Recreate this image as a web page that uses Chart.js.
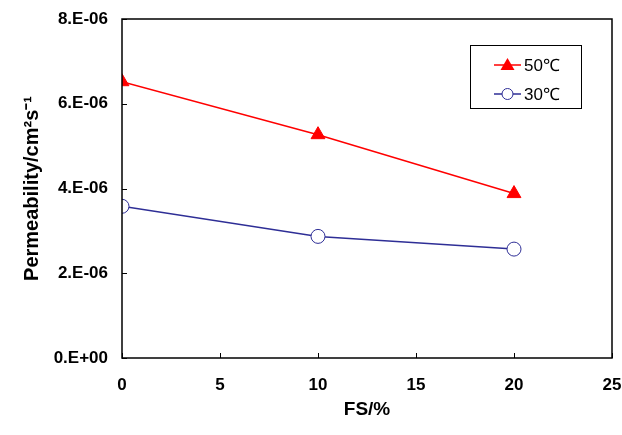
<!DOCTYPE html>
<html>
<head>
<meta charset="utf-8">
<script src="https://cdn.jsdelivr.net/npm/chart.js@4.4.0/dist/chart.umd.min.js"></script>
<style>
  html, body { margin: 0; padding: 0; background: #fff; }
  #chart { display: block; }
</style>
</head>
<body>
<canvas id="chart" width="622" height="435"></canvas>
<script>
// data
const fsPercent = [0, 10, 20];
const perm50 = [6.52e-6, 5.27e-6, 3.88e-6];
const perm30 = [3.58e-6, 2.87e-6, 2.57e-6];
const seriesLabels = ['50\u2103', '30\u2103'];
const xTitle = 'FS/%';
const yTitle = 'Permeability/cm\u00B2s\u207B\u00B9';

const RED = '#ff0000';
const NAVY = '#2e2e96';
const FONT = "'Liberation Sans', Arial, sans-serif";

// Excel style "8.E-06"
function excelExp(v) {
    if (Math.abs(v) < 1e-15) return '0.E+00';
    let exp = Math.floor(Math.log10(Math.abs(v)) + 1e-9);
    let mant = Math.round(v / Math.pow(10, exp));
    const sign = exp < 0 ? '-' : '+';
    return mant + '.E' + sign + String(Math.abs(exp)).padStart(2, '0');
}

function toPoints(xs, ys) {
    return xs.map((x, i) => ({ x: x, y: ys[i] }));
}

// frame + inward tick marks
const framePlugin = {
    id: 'frame',
    afterDraw(chart) {
        const ctx = chart.ctx;
        const a = chart.chartArea;
        const xs = chart.scales.x, ys = chart.scales.y;
        ctx.save();
        ctx.strokeStyle = '#000';
        ctx.lineWidth = 1.5;
        ctx.strokeRect(a.left, a.top, a.right - a.left, a.bottom - a.top);
        ctx.lineWidth = 1;
        ctx.beginPath();
        xs.ticks.forEach(t => {
            const px = Math.round(xs.getPixelForValue(t.value)) + 0.5;
            ctx.moveTo(px, a.bottom);
            ctx.lineTo(px, a.bottom - 5);
        });
        ys.ticks.forEach(t => {
            const py = Math.round(ys.getPixelForValue(t.value)) + 0.5;
            ctx.moveTo(a.left, py);
            ctx.lineTo(a.left + 5, py);
        });
        ctx.stroke();
        ctx.restore();
    }
};

// boxed legend inside the plot, upper right
const boxLegend = {
    id: 'boxLegend',
    afterDraw(chart) {
        const ctx = chart.ctx;
        const bx = 470, by = 45, bw = 111, bh = 63;
        ctx.save();
        ctx.fillStyle = '#fff';
        ctx.fillRect(bx, by, bw, bh);
        ctx.strokeStyle = '#000';
        ctx.lineWidth = 1;
        ctx.strokeRect(bx + 0.5, by + 0.5, bw, bh);
        const rows = [20, 49];
        chart.data.datasets.forEach((ds, i) => {
            const y = by + rows[i];
            ctx.strokeStyle = ds.borderColor;
            ctx.lineWidth = 1.5;
            ctx.beginPath();
            ctx.moveTo(494, y);
            ctx.lineTo(521, y);
            ctx.stroke();
            const cx = 507.5;
            if (ds.pointStyle === 'triangle') {
                ctx.fillStyle = ds.pointBackgroundColor;
                ctx.beginPath();
                ctx.moveTo(cx, y - 7);
                ctx.lineTo(cx + 7, y + 5);
                ctx.lineTo(cx - 7, y + 5);
                ctx.closePath();
                ctx.fill();
            } else {
                ctx.fillStyle = '#fff';
                ctx.strokeStyle = ds.pointBorderColor;
                ctx.lineWidth = 1;
                ctx.beginPath();
                ctx.arc(cx, y, 5.5, 0, Math.PI * 2);
                ctx.fill();
                ctx.stroke();
            }
            ctx.fillStyle = '#000';
            ctx.font = '17px ' + FONT;
            ctx.textBaseline = 'middle';
            ctx.textAlign = 'left';
            ctx.fillText(ds.label, 524, y + 1);
        });
        ctx.restore();
    }
};

const ctx = document.getElementById('chart').getContext('2d');
new Chart(ctx, {
    type: 'scatter',
    data: {
        datasets: [{
            label: seriesLabels[0],
            data: toPoints(fsPercent, perm50),
            showLine: true,
            borderColor: RED,
            borderWidth: 1.5,
            pointStyle: 'triangle',
            pointRadius: 8,
            pointBackgroundColor: RED,
            pointBorderColor: RED,
            pointBorderWidth: 1
        }, {
            label: seriesLabels[1],
            data: toPoints(fsPercent, perm30),
            showLine: true,
            borderColor: NAVY,
            borderWidth: 1.5,
            pointStyle: 'circle',
            pointRadius: 7,
            pointBackgroundColor: '#fff',
            pointBorderColor: NAVY,
            pointBorderWidth: 1
        }]
    },
    options: {
        responsive: false,
        animation: false,
        layout: { padding: { left: 0, right: 10, top: 19, bottom: 0 } },
        plugins: {
            legend: { display: false },
            tooltip: { enabled: false }
        },
        scales: {
            x: {
                type: 'linear',
                min: 0, max: 25,
                ticks: {
                    stepSize: 5,
                    color: '#000',
                    padding: 9,
                    font: { family: FONT, size: 17, weight: 'bold' }
                },
                grid: { display: false },
                border: { display: false },
                title: {
                    display: true,
                    text: xTitle,
                    color: '#000',
                    padding: { top: 4, bottom: 14 },
                    font: { family: FONT, size: 19, weight: 'bold' }
                },
                afterFit(scale) {
                    scale.height = 77;
                    scale.paddingLeft = 0;
                    scale.paddingRight = 0;
                }
            },
            y: {
                min: 0, max: 8e-6,
                ticks: {
                    stepSize: 2e-6,
                    color: '#000',
                    padding: 6,
                    font: { family: FONT, size: 17, weight: 'bold' },
                    callback: v => excelExp(v)
                },
                grid: { display: false },
                border: { display: false },
                title: {
                    display: true,
                    text: yTitle,
                    color: '#000',
                    padding: { top: 20, bottom: 0 },
                    font: { family: FONT, size: 20, weight: 'bold' }
                },
                afterFit(scale) { scale.width = 122; }
            }
        }
    },
    plugins: [framePlugin, boxLegend]
});
</script>
</body>
</html>
